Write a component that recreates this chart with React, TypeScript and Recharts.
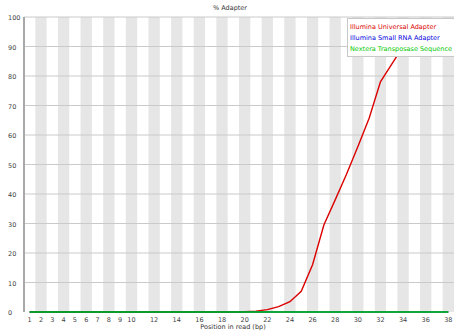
import { LineChart, Line, XAxis, YAxis, ReferenceArea, ReferenceLine } from 'recharts';

// Position in read (bp), one category per base
const positions = Array.from({ length: 38 }, (_, i) => i + 1);

const xTicks = [1, 2, 3, 4, 5, 6, 7, 8, 9, 10, 12, 14, 16, 18, 20, 22, 24, 26, 28, 30, 32, 34, 36, 38];
const yTicks = [0, 10, 20, 30, 40, 50, 60, 70, 80, 90, 100];
const gridLevels = [10, 20, 30, 40, 50, 60, 70, 80, 90, 100];

// % adapter per position
const universal = [
  0, 0, 0, 0, 0, 0, 0, 0, 0, 0,
  0, 0, 0, 0, 0, 0, 0, 0, 0, 0.1,
  0.3, 0.8, 1.8, 3.5, 7, 16, 29.5, 38, 46.7, 56,
  65.7, 78, 84, 90, 93, 95, 96.5, 97.5
];
const smallRna = positions.map(() => 0);
const nextera = positions.map(() => 0);

const SERIES = [
  { key: 'universal', name: 'Illumina Universal Adapter', color: '#dc0000' },
  { key: 'smallRna', name: 'Illumina Small RNA Adapter', color: '#0000dc' },
  { key: 'nextera', name: 'Nextera Transposase Sequence', color: '#00c800' },
];

const data = positions.map((p, i) => ({
  pos: p,
  universal: universal[i],
  smallRna: smallRna[i],
  nextera: nextera[i],
}));

const FONT = '"DejaVu Sans", sans-serif';

const XTick = ({ x, y, payload }: any) => (
  <text x={x} y={y + 2} textAnchor="middle" fontSize={6.5} fontFamily={FONT} fill="#444">
    {payload.value}
  </text>
);

const YTick = ({ y, payload }: any) => (
  <text x={8} y={y + 3} textAnchor="start" fontSize={6.5} fontFamily={FONT} fill="#444">
    {payload.value}
  </text>
);

export default function App() {
  return (
    <div style={{ position: 'absolute', left: 0, top: 0, width: 454, height: 333, background: '#fff', overflow: 'hidden' }}>
      <div
        style={{
          position: 'absolute', top: 4, left: 0, width: 460, textAlign: 'center',
          fontFamily: FONT, fontSize: 6.5, color: '#333'
        }}
      >
        % Adapter
      </div>
      <LineChart width={454} height={333} data={data} margin={{ top: 17, right: 0, left: 0, bottom: 0 }}>
        {positions.filter(p => p % 2 === 0).map(p => (
          <ReferenceArea key={p} x1={p - 0.5} x2={p + 0.5} y1={0} y2={100} fill="#e6e6e6" fillOpacity={1} stroke="none" />
        ))}
        {gridLevels.map(v => (
          <ReferenceLine key={v} y={v} stroke="#cacaca" strokeWidth={1} />
        ))}
        <XAxis
          dataKey="pos"
          type="number"
          domain={[0.5, 38.5]}
          ticks={xTicks}
          interval={0}
          height={21}
          axisLine={false}
          tickLine={false}
          tick={<XTick />}
        />
        <YAxis
          domain={[0, 100]}
          ticks={yTicks}
          interval={0}
          width={24}
          axisLine={{ stroke: '#a8a8a8', strokeWidth: 2 }}
          tickLine={false}
          tick={<YTick />}
        />
        {SERIES.map(s => (
          <Line
            key={s.key}
            type="linear"
            dataKey={s.key}
            name={s.name}
            stroke={s.color}
            strokeWidth={1.4}
            dot={false}
            isAnimationActive={false}
          />
        ))}
      </LineChart>
      <div
        style={{
          position: 'absolute', top: 18, left: 347, width: 110,
          background: '#fff', borderLeft: '1px solid #c8c8c8', borderBottom: '1px solid #c8c8c8',
          borderTop: '1px solid #c8c8c8',
          padding: '3px 0 1px 2px', fontFamily: FONT, fontSize: 6.5, lineHeight: '11px',
          whiteSpace: 'nowrap', boxSizing: 'border-box'
        }}
      >
        {SERIES.map(s => (
          <div key={s.key} style={{ color: s.color }}>{s.name}</div>
        ))}
      </div>
      <div
        style={{
          position: 'absolute', top: 323, left: 0, width: 466, textAlign: 'center',
          fontFamily: FONT, fontSize: 6.5, color: '#333'
        }}
      >
        Position in read (bp)
      </div>
    </div>
  );
}
